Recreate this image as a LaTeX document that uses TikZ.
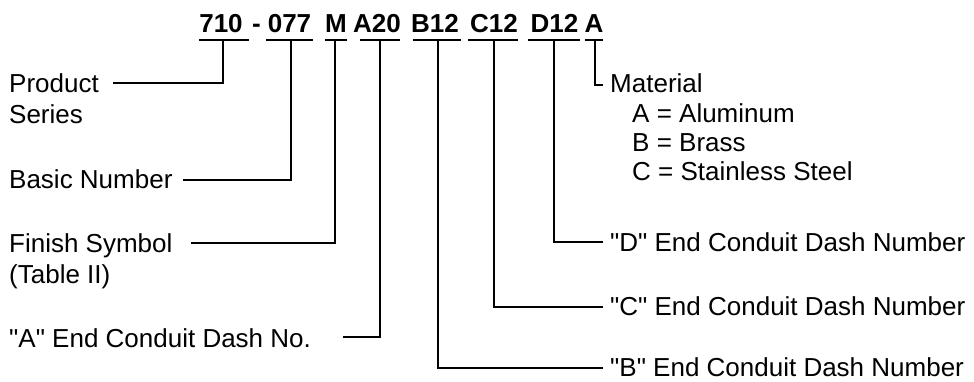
\documentclass[tikz,border=0pt]{standalone}
\usepackage{fontspec}
\newfontfamily\labfont{Liberation Sans}
\begin{document}
\begin{tikzpicture}[x=1pt,y=-1pt,
  lab/.style={inner sep=0pt,anchor=base west,font=\labfont\fontsize{26}{31}\selectfont,text height=18pt,text depth=0pt},
  code/.style={inner sep=0pt,anchor=base,font=\labfont\bfseries\fontsize{26}{31}\selectfont},
  wire/.style={line width=2pt}]
\useasboundingbox (0,0) rectangle (974,381);
% code groups
\node[code] (g1) at (221,32) {710};
\node[code] (dash) at (256.5,32) {-};
\node[code] (g2) at (289.5,32) {077};
\node[code] (g3) at (336,32) {M};
\node[code] (g4) at (377,32) {A20};
\node[code] (g5) at (435,32) {B12};
\node[code] (g6) at (494,32) {C12};
\node[code] (g7) at (554.5,32) {D12};
\node[code] (g8) at (594,32) {A};
% underlines
\draw[wire] (199,40) -- (249,40);
\draw[wire] (266,40) -- (313,40);
\draw[wire] (325,40) -- (347,40);
\draw[wire] (360,40) -- (400,40);
\draw[wire] (413,40) -- (461,40);
\draw[wire] (468,40) -- (518,40);
\draw[wire] (528,40) -- (580,40);
\draw[wire] (585,40) -- (603,40);
% tick points
\coordinate (t1) at (222.5,40);
\coordinate (t2) at (291,40);
\coordinate (t3) at (334.5,40);
\coordinate (t4) at (380,40);
\coordinate (t5) at (438,40);
\coordinate (t6) at (494,40);
\coordinate (t7) at (554,40);
\coordinate (t8) at (595,40);
% left labels
\node[lab] (prod) at (9,92) {Product};
\node[lab] (ser) at (9,123) {Series};
\node[lab] (basic) at (9,188) {Basic Number};
\node[lab] (fin) at (9,252) {Finish Symbol};
\node[lab] (tab) at (9,283) {(Table II)};
\node[lab] (aend) at (9,347) {"A" End Conduit Dash No.};
% right labels
\node[lab] (mat) at (610,92) {Material};
\node[lab] (m1) at (632,122) {A = Aluminum};
\node[lab] (m2) at (632,151) {B = Brass};
\node[lab] (m3) at (632,180) {C = Stainless Steel};
\node[lab] (dend) at (610,251) {"D" End Conduit Dash Number};
\node[lab] (cend) at (610,315) {"C" End Conduit Dash Number};
\node[lab] (bend) at (610,376) {"B" End Conduit Dash Number};
% connectors
\coordinate (e1) at (113,83);
\coordinate (e2) at (183,180);
\coordinate (e3) at (191,243);
\coordinate (e4) at (343,337);
\coordinate (e5) at (603,368);
\coordinate (e6) at (603,307);
\coordinate (e7) at (603,242);
\coordinate (e8) at (603,85);
\draw[wire] (t1) |- (e1);
\draw[wire] (t2) |- (e2);
\draw[wire] (t3) |- (e3);
\draw[wire] (t4) |- (e4);
\draw[wire] (t5) |- (e5);
\draw[wire] (t6) |- (e6);
\draw[wire] (t7) |- (e7);
\draw[wire] (t8) |- (e8);
\end{tikzpicture}
\end{document}
